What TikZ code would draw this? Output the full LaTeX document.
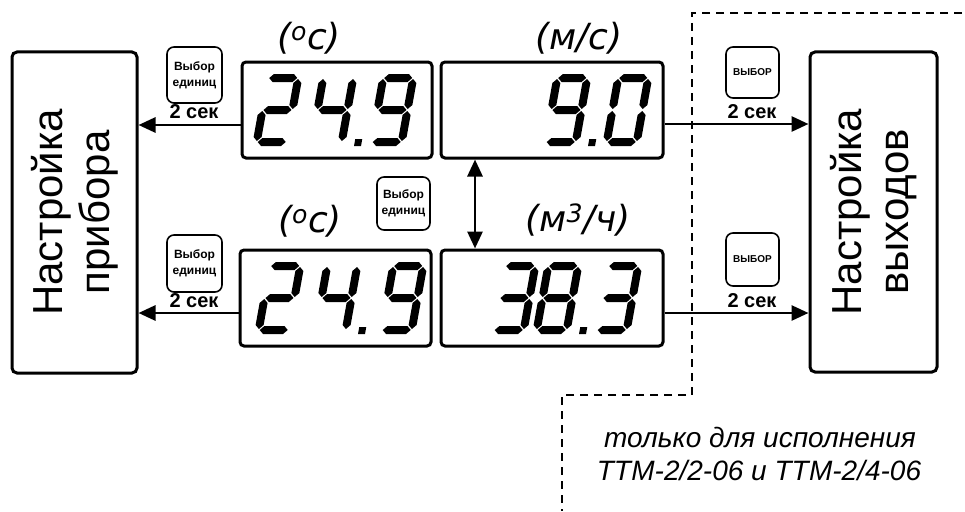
\documentclass[tikz,border=0pt]{standalone}
\usepackage{fontspec}
\setmainfont{Liberation Sans}
\newfontfamily\dejavu{DejaVu Sans}
\usetikzlibrary{arrows.meta}
% seven-segment pieces (local frame, y up, origin = bottom-left)
\newcommand\segA{\fill (5,68)--(9,72)--(29,72)--(33,68)--(29,64)--(9,64)--cycle;}
\newcommand\segG{\fill (5,36)--(9,40)--(29,40)--(33,36)--(29,32)--(9,32)--cycle;}
\newcommand\segD{\fill (5,4)--(9,8)--(29,8)--(33,4)--(29,0)--(9,0)--cycle;}
\newcommand\segF{\fill (4,37)--(8,41)--(8,63)--(4,67)--(0,63)--(0,41)--cycle;}
\newcommand\segB{\fill (34,37)--(38,41)--(38,63)--(34,67)--(30,63)--(30,41)--cycle;}
\newcommand\segE{\fill (4,5)--(8,9)--(8,31)--(4,35)--(0,31)--(0,9)--cycle;}
\newcommand\segC{\fill (34,5)--(38,9)--(38,31)--(34,35)--(30,31)--(30,9)--cycle;}
\newcommand\segP{\fill (47,0)--(54,0)--(54,7)--(47,7)--cycle;}
\newcommand\dTwo{\segA\segB\segG\segE\segD}
\newcommand\dThree{\segA\segB\segG\segC\segD}
\newcommand\dFour{\segF\segG\segB\segC}
\newcommand\dNine{\segA\segB\segC\segD\segF\segG}
\newcommand\dZero{\segA\segB\segC\segD\segE\segF}
\newcommand\dEight{\segA\segB\segC\segD\segE\segF\segG}
\newcommand\dgt[3]{\begin{scope}[shift={(#1,#2)},x=1pt,y=1pt,xslant=0.18]#3\end{scope}}
\begin{document}
\begin{tikzpicture}[x=1pt,y=-1pt,
  disp/.style={draw,line width=3pt,rounded corners=4pt,inner sep=0pt},
  bigbox/.style={draw,line width=3pt,rounded corners=5pt,inner sep=0pt,rotate=90,align=center,
     font=\fontsize{42}{47}\selectfont},
  btn/.style={draw,line width=1.6pt,rounded corners=7pt,inner sep=0pt,align=center,
     font=\bfseries\fontsize{12}{16}\selectfont},
  sec/.style={font=\bfseries\fontsize{20}{24}\selectfont,inner sep=0pt},
  unit/.style={font=\dejavu\itshape\fontsize{36}{42}\selectfont,inner sep=0pt},
  note/.style={font=\itshape\fontsize{28}{32}\selectfont,inner sep=0pt,anchor=base},
  arr/.style={line width=2.8pt,-{Triangle[length=17pt,width=15pt]}},
  dbl/.style={line width=2.8pt,{Triangle[length=17pt,width=15pt]}-{Triangle[length=17pt,width=15pt]}},
  dashline/.style={line width=2.6pt,dash pattern=on 8pt off 6pt}]
\useasboundingbox (0,0) rectangle (965,511);
% big boxes
\node[bigbox,minimum width=321pt,minimum height=125pt] (L) at (74.5,212.5) {Настройка\\прибора};
\node[bigbox,minimum width=320pt,minimum height=127pt] (R) at (873.5,212) {Настройка\\выходов};
% displays
\node[disp,minimum width=190pt,minimum height=96pt] (d1) at (337,110) {};
\node[disp,minimum width=222pt,minimum height=96pt] (d2) at (552,110) {};
\node[disp,minimum width=191pt,minimum height=96pt] (d3) at (335.5,298) {};
\node[disp,minimum width=222pt,minimum height=96pt] (d4) at (552,298) {};
% digits
\dgt{252}{146}{\dTwo}\dgt{307}{146}{\dFour\segP}\dgt{367}{146}{\dNine}
\dgt{541}{146}{\dNine\segP}\dgt{602}{146}{\dZero}
\dgt{254}{334}{\dTwo}\dgt{311}{334}{\dFour\segP}\dgt{377}{334}{\dNine}
\dgt{489}{334}{\dThree}\dgt{532}{334}{\dEight\segP}\dgt{592}{334}{\dThree}
% units
\node[unit] (u1) at (309,38) {(\textsuperscript{o}с)};
\node[unit] (u2) at (579,38) {(м/с)};
\node[unit] (u3) at (310,221) {(\textsuperscript{o}с)};
\node[unit] (u4) at (578,220) {(м\textsuperscript{3}/ч)};
% buttons
\node[btn,minimum width=55pt,minimum height=56pt] (b1) at (194.5,75) {Выбор\\единиц};
\node[btn,minimum width=55pt,minimum height=57pt] (b2) at (194.5,263.5) {Выбор\\единиц};
\node[btn,minimum width=53pt,minimum height=53pt] (b3) at (403.5,203.5) {Выбор\\единиц};
\node[btn,minimum width=53pt,minimum height=51pt,font=\bfseries\fontsize{10}{12}\selectfont] (b4) at (752.5,72.5) {ВЫБОР};
\node[btn,minimum width=53pt,minimum height=53pt,font=\bfseries\fontsize{10}{12}\selectfont] (b5) at (752.5,259.5) {ВЫБОР};
\node[sec] (s1) at (194,112) {2 сек};
\node[sec] (s2) at (194,301) {2 сек};
\node[sec] (s3) at (752,112) {2 сек};
\node[sec] (s4) at (752,301) {2 сек};
% connectors
\draw[arr] (d1.west |- 0,125) -- (L.south |- 0,125);
\draw[arr] (d3.west |- 0,313) -- (L.south |- 0,313);
\draw[arr] (d2.east |- 0,124) -- (R.north |- 0,124);
\draw[arr] (d4.east |- 0,313) -- (R.north |- 0,313);
\coordinate (vx) at (475,200);
\draw[dbl] (d2.south -| vx) -- (d4.north -| vx);
% dashed region
\draw[dashline] (962,13) -- (692,13) -- (692,395) -- (562,395) -- (562,511);
\node[note] (n1) at (760,447) {только для исполнения};
\node[note] (n2) at (759,480) {ТТМ-2/2-06 и ТТМ-2/4-06};
\end{tikzpicture}
\end{document}
